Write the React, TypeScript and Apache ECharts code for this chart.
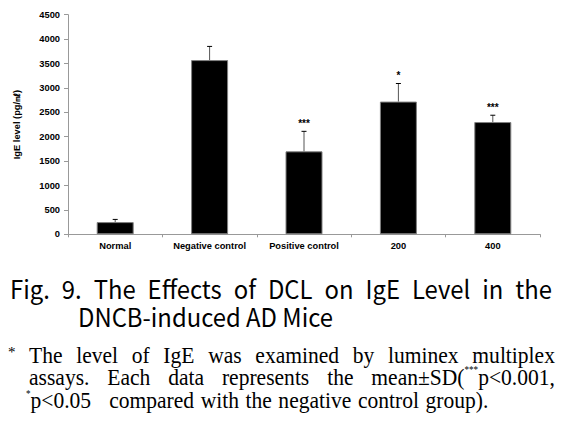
import React, { useEffect, useRef } from "react";
import * as echarts from "echarts";

const categories = ["Normal", "Negative control", "Positive control", "200", "400"];
const meanValues = [250, 3570, 1700, 2720, 2300];
const sdValues = [55, 280, 410, 370, 140];
const significance = ["", "", "***", "*", "***"];
const yMin = 0;
const yMax = 4500;
const yInterval = 500;
const yAxisName = "IgE level (pg/㎖)";

const captionLine1 = "Fig. 9. The Effects of DCL on IgE Level in the";
const captionLine2 = "DNCB-induced AD Mice";
const noteLine1 = "The level of IgE was examined by luminex multiplex";
const noteLine2 = "assays. Each data represents the";
const noteLine2End = ["mean±SD(", "***", "p<0.001,"];
const noteLine3Start = ["*", "p<0.05"];
const noteLine3 = "compared with the negative control group).";

type Seg = { t: string; scale?: number; dy?: number };

const SERIF = '"Liberation Serif", "DejaVu Serif", serif';
const SANS_CAP = '"Noto Sans CJK KR", "Noto Sans", sans-serif';
const ARIAL = '"Liberation Sans", Arial, sans-serif';

export default function App() {
  const ref = useRef<HTMLDivElement>(null);
  useEffect(() => {
    document.body.style.margin = "0";
    const el = ref.current!;
    const chart = echarts.init(el, null, { renderer: "svg" });
    const canvas = document.createElement("canvas");
    const ctx = canvas.getContext("2d")!;
    const measure = (t: string, fs: number, fam: string) => {
      ctx.font = `${fs}px ${fam}`;
      return ctx.measureText(t).width;
    };
    const graphics: any[] = [];
    const addText = (t: string, x: number, y: number, fs: number, fam: string, sx: number) => {
      graphics.push({
        type: "text",
        x,
        y,
        scaleX: sx,
        silent: true,
        style: {
          text: t,
          fontSize: fs,
          fontFamily: fam,
          fill: "#000",
          align: "left",
          verticalAlign: "middle",
          textAlign: "left",
          textVerticalAlign: "middle",
        },
      });
    };
    const wordWidth = (w: Seg[], fs: number, fam: string, sx: number) =>
      w.reduce((s, seg) => s + sx * measure(seg.t, fs * (seg.scale || 1), fam), 0);
    const place = (words: Seg[][], x0: number, gaps: number[], y: number, fs: number, fam: string, sx: number) => {
      let x = x0;
      words.forEach((w, i) => {
        w.forEach((seg) => {
          const f = fs * (seg.scale || 1);
          addText(seg.t, x, y + (seg.dy || 0), f, fam, sx);
          x += sx * measure(seg.t, f, fam);
        });
        if (i < words.length - 1) x += gaps[i];
      });
    };
    const justify = (words: Seg[][], x0: number, x1: number, y: number, fs: number, fam: string, sx: number) => {
      const total = words.reduce((s, w) => s + wordWidth(w, fs, fam, sx), 0);
      const g = (x1 - x0 - total) / (words.length - 1);
      place(words, x0, words.map(() => g), y, fs, fam, sx);
    };
    const toWords = (s: string): Seg[][] => s.split(" ").map((t) => [{ t }]);

    // caption
    const capFs = 25;
    const capSx = Math.min(1.1, 255 / measure(captionLine2, capFs, SANS_CAP));
    justify(toWords(captionLine1), 10, 552, 288, capFs, SANS_CAP, capSx);
    const sp = capSx * measure(" ", capFs, SANS_CAP);
    place(toWords(captionLine2), 78, [sp, sp, sp], 316.5, capFs, SANS_CAP, capSx);

    // footnote
    const nFs = 24;
    const nSx = Math.min(1.1, 85 / measure("compared", nFs, SERIF));
    addText("*", 8, 352, 15, SERIF, 1);
    justify(toWords(noteLine1), 29, 555, 355.5, nFs, SERIF, nSx);
    const l2 = toWords(noteLine2);
    l2.push([
      { t: noteLine2End[0] },
      { t: noteLine2End[1], scale: 0.42, dy: -8 },
      { t: noteLine2End[2] },
    ]);
    justify(l2, 29, 555, 377.5, nFs, SERIF, nSx);
    const l3: Seg[][] = [[{ t: noteLine3Start[0], scale: 0.42, dy: -7 }, { t: noteLine3Start[1] }]];
    toWords(noteLine3).forEach((w) => l3.push(w));
    place(l3, 26, [18, 6.5, 6.5, 6.5, 6.5, 6.5], 400, nFs, SERIF, nSx);

    const errData = meanValues.map((m, i) => [i, m, m + sdValues[i]]);

    chart.setOption({
      animation: false,
      grid: {
        left: 68,
        top: 14.7,
        width: 472,
        height: 219.6,
        containLabel: false,
        outerBoundsMode: "none",
      },
      xAxis: {
        type: "category",
        data: categories,
        axisLine: { lineStyle: { color: "#999", width: 1 } },
        axisTick: { show: true, alignWithLabel: false, length: 3, lineStyle: { color: "#999" } },
        axisLabel: {
          color: "#000",
          fontWeight: "bold",
          fontSize: 9.3,
          fontFamily: ARIAL,
          margin: 7,
          interval: 0,
        },
        splitLine: { show: false },
      },
      yAxis: {
        type: "value",
        min: yMin,
        max: yMax,
        interval: yInterval,
        name: yAxisName,
        nameLocation: "middle",
        nameRotate: 90,
        nameGap: 47,
        nameTextStyle: { color: "#000", fontWeight: "bold", fontSize: 9.3, fontFamily: ARIAL },
        axisLine: { show: true, lineStyle: { color: "#999", width: 1 } },
        axisTick: { show: true, length: 4, lineStyle: { color: "#999" } },
        axisLabel: {
          color: "#000",
          fontWeight: "bold",
          fontSize: 9.3,
          fontFamily: ARIAL,
          margin: 8,
          formatter: (v: number) => String(v),
        },
        splitLine: { show: false },
      },
      series: [
        {
          type: "bar",
          data: meanValues,
          barWidth: 37,
          itemStyle: { color: "#000", borderColor: "#808080", borderWidth: 1 },
          z: 2,
        },
        {
          type: "custom",
          data: errData,
          z: 3,
          renderItem: (params: any, api: any) => {
            const i = api.value(0);
            const p0 = api.coord([i, api.value(1)]);
            const p1 = api.coord([i, api.value(2)]);
            const children: any[] = [
              {
                type: "line",
                shape: { x1: p0[0], y1: p0[1], x2: p1[0], y2: p1[1] },
                style: { stroke: "#555", lineWidth: 1 },
              },
              {
                type: "line",
                shape: { x1: p1[0] - 2.5, y1: p1[1], x2: p1[0] + 2.5, y2: p1[1] },
                style: { stroke: "#000", lineWidth: 1 },
              },
            ];
            const s = significance[params.dataIndex];
            if (s) {
              children.push({
                type: "text",
                x: p1[0],
                y: p1[1] - 8,
                style: {
                  text: s,
                  fontSize: 10,
                  fontWeight: "bold",
                  fontFamily: ARIAL,
                  fill: "#000",
                  align: "center",
                  verticalAlign: "middle",
                  textAlign: "center",
                  textVerticalAlign: "middle",
                },
              });
            }
            return { type: "group", children };
          },
        },
      ],
      graphic: graphics,
    });
    return () => chart.dispose();
  }, []);
  return <div ref={ref} style={{ width: 571, height: 426 }} />;
}
